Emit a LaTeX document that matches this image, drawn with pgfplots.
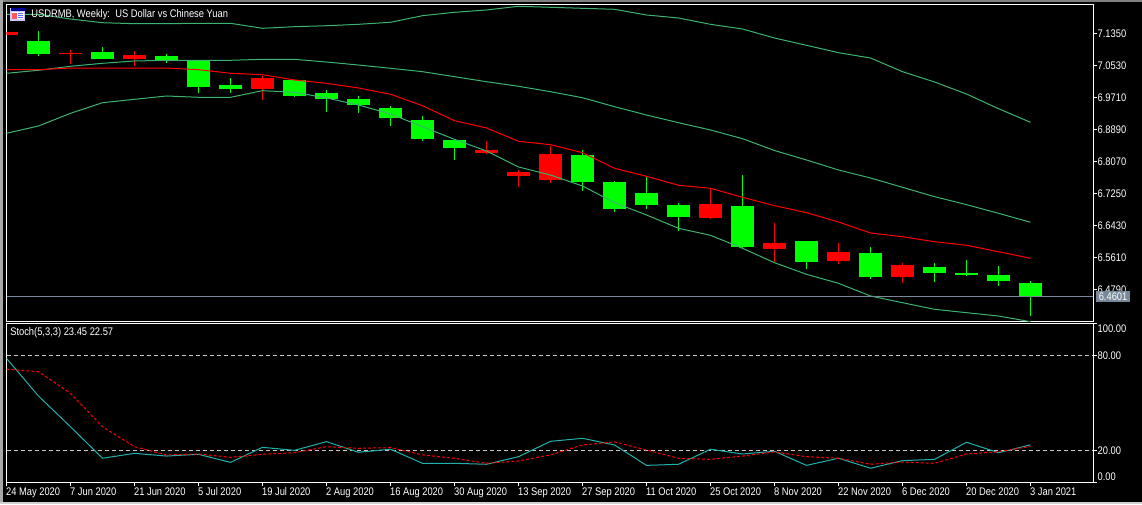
\documentclass[border=0pt]{standalone}
\usepackage{pgfplots}
\usepackage{pgfplotstable}
\usepackage{fontspec}
\setmainfont[FakeStretch=0.85]{Liberation Sans}
\pgfplotsset{compat=1.18}
\definecolor{band}{HTML}{3CB371}
\definecolor{stochc}{HTML}{20B2AA}
\definecolor{slatec}{HTML}{778899}
\definecolor{lime}{HTML}{00FF00}
\definecolor{lvl}{HTML}{C8C8C8}
\newcommand{\uifont}{\fontsize{8.25}{10}\selectfont}

% week top high low bottom
\pgfplotstableread{
k t h l b
1 7.1152 7.1408 7.0768 7.0819
3 7.0871 7.0999 7.0691 7.0691
5 7.0768 7.0819 7.0589 7.0666
6 7.0666 7.0666 6.9820 6.9974
7 7.0025 7.0204 6.9820 6.9922
9 7.0153 7.0153 6.9718 6.9743
10 6.9820 6.9897 6.9333 6.9666
11 6.9666 6.9743 6.9307 6.9512
12 6.9435 6.9486 6.8974 6.9179
13 6.9128 6.9230 6.8589 6.8641
14 6.8615 6.8615 6.8103 6.8410
18 6.8231 6.8359 6.7308 6.7539
19 6.7539 6.7564 6.6771 6.6847
20 6.7257 6.7693 6.6847 6.6950
21 6.6950 6.7001 6.6283 6.6643
23 6.6924 6.7719 6.5848 6.5873
25 6.6027 6.6027 6.5310 6.5489
27 6.5720 6.5874 6.5054 6.5105
29 6.5361 6.5463 6.4977 6.5207
30 6.5207 6.5540 6.5130 6.5156
31 6.5156 6.5387 6.4874 6.5002
32 6.4951 6.5002 6.4100 6.4601
}\greencandles
\pgfplotstableread{
k t h l b
0 7.1383 7.1383 7.1306 7.1306
2 7.0845 7.0922 7.0563 7.0820
4 7.0794 7.0896 7.0512 7.0691
8 7.0204 7.0255 6.9640 6.9922
15 6.8359 6.8589 6.8256 6.8282
16 6.7795 6.7847 6.7411 6.7693
17 6.8256 6.8462 6.7513 6.7590
22 6.6975 6.7385 6.6591 6.6616
24 6.5976 6.6488 6.5489 6.5822
26 6.5746 6.5976 6.5438 6.5515
28 6.5412 6.5463 6.4951 6.5105
}\redcandles
\pgfplotstableread{
k up mid low ma main sig
0 7.1837 7.0325 6.8787 7.0417 78.1 71.2
1 7.1837 7.0402 6.8974 7.0417 54.3 69.7
2 7.1716 7.0504 6.9300 7.0460 34.9 56.0
3 7.1621 7.0581 6.9571 7.0460 15.0 34.9
4 7.1596 7.0640 6.9658 7.0460 18.1 22.3
5 7.1596 7.0658 6.9743 7.0460 16.4 17.1
6 7.1606 7.0658 6.9710 7.0417 17.5 17.7
7 7.1606 7.0658 6.9710 7.0325 12.4 15.6
8 7.1478 7.0683 6.9879 7.0289 21.9 17.5
9 7.1519 7.0683 6.9838 7.0153 20.0 18.5
10 7.1544 7.0614 6.9692 7.0068 25.5 22.3
11 7.1580 7.0537 6.9512 6.9948 18.8 21.3
12 7.1632 7.0453 6.9282 6.9787 20.7 21.7
13 7.1801 7.0366 6.8956 6.9494 11.8 17.1
14 7.1888 7.0238 6.8633 6.9110 11.8 15.0
15 7.1947 7.0109 6.8334 6.8923 11.2 11.8
16 7.2042 6.9992 6.7924 6.8582 16.0 13.3
17 7.2016 6.9853 6.7719 6.8495 25.7 17.1
18 7.1990 6.9699 6.7437 6.8290 27.6 23.4
19 7.1965 6.9469 6.7009 6.7890 23.4 25.3
20 7.1819 6.9256 6.6694 6.7685 10.5 20.2
21 7.1742 6.9059 6.6353 6.7455 11.2 15.0
22 7.1580 6.8872 6.6173 6.7378 20.7 14.3
23 7.1460 6.8649 6.5840 6.7147 17.7 16.4
24 7.1229 6.8346 6.5471 6.6932 19.4 19.0
25 7.1042 6.8103 6.5174 6.6753 10.5 16.0
26 7.0853 6.7847 6.4943 6.6514 15.0 15.0
27 7.0717 6.7642 6.4618 6.6232 8.7 11.2
28 7.0366 6.7403 6.4446 6.6137 13.5 12.6
29 7.0102 6.7163 6.4277 6.6009 14.3 11.8
30 6.9794 6.6958 6.4190 6.5917 25.1 17.7
31 6.9418 6.6737 6.4105 6.5753 18.5 19.1
32 6.9069 6.6507 6.3959 6.5584 23.45 22.57
}\series

\pgfplotsset{
  mt/.style={
    scale only axis,
    width=814.875pt,
    xmin=0, xmax=33.953,
    axis line style={white,line width=0.75pt},
    every tick/.style={white,line width=0.75pt},
    tick align=outside,
    major tick length=3pt,
    ytick pos=right,
    yticklabel pos=right,
    every tick label/.append style={font=\uifont,text=white},
    yticklabel style={anchor=west,xshift=-0.75pt,inner sep=1pt},
    clip=true,
  },
}

\begin{document}
\begin{tikzpicture}
\useasboundingbox (0,0) rectangle (856.5pt,378pt);
\fill[black] (0,0) rectangle (856.5pt,378pt);

\begin{axis}[mt,
  at={(4.875pt,137.25pt)}, anchor=south west,
  height=237.525pt,
  ymin=6.3977, ymax=7.2093,
  xtick=\empty,
  ytick={6.479,6.561,6.643,6.725,6.807,6.889,6.971,7.053,7.135},
  yticklabels={6.4790,6.5610,6.6430,6.7250,6.8070,6.8890,6.9710,7.0530,7.1350},
]
% wicks and bodies
\addplot[draw=none,forget plot,error bars/.cd,y dir=minus,y explicit,error mark=none,
  error bar style={lime,line width=0.75pt}]
  table[x=k,y=h,y error minus expr=\thisrow{h}-\thisrow{l}] {\greencandles};
\addplot[draw=none,forget plot,error bars/.cd,y dir=minus,y explicit,error mark=none,
  error bar style={lime,line width=17.25pt}]
  table[x=k,y=t,y error minus expr=\thisrow{t}-\thisrow{b}] {\greencandles};
\addplot[draw=none,forget plot,error bars/.cd,y dir=minus,y explicit,error mark=none,
  error bar style={red,line width=0.75pt}]
  table[x=k,y=h,y error minus expr=\thisrow{h}-\thisrow{l}] {\redcandles};
\addplot[draw=none,forget plot,error bars/.cd,y dir=minus,y explicit,error mark=none,
  error bar style={red,line width=17.25pt}]
  table[x=k,y=t,y error minus expr=\thisrow{t}-\thisrow{b}] {\redcandles};
% bands
\addplot[band,line width=0.75pt] table[x=k,y=up] {\series};
\addplot[band,line width=0.75pt] table[x=k,y=mid] {\series};
\addplot[band,line width=0.75pt] table[x=k,y=low] {\series};
\addplot[red,line width=0.75pt] table[x=k,y=ma] {\series};
% current price
\addplot[slatec,line width=0.75pt] coordinates {(0,6.4601) (33.953,6.4601)};
\end{axis}

\begin{axis}[mt,
  at={(4.875pt,16.5pt)}, anchor=south west,
  height=118.725pt,
  ymin=0, ymax=100,
  xtick={0,2,...,32},
  xticklabels={24 May 2020,7 Jun 2020,21 Jun 2020,5 Jul 2020,19 Jul 2020,2 Aug 2020,16 Aug 2020,30 Aug 2020,13 Sep 2020,27 Sep 2020,11 Oct 2020,25 Oct 2020,8 Nov 2020,22 Nov 2020,6 Dec 2020,20 Dec 2020,3 Jan 2021},
  xtick pos=bottom,
  xticklabel pos=lower,
  xticklabel style={anchor=north west,xshift=-0.5pt,yshift=-0.25pt,inner xsep=0pt,inner ysep=1pt,text height=6pt,text depth=1.75pt},
  ytick={0,20,80,100},
  yticklabels={\raisebox{4pt}[6pt][1pt]{0.00},20.00,80.00,\raisebox{-4pt}[6pt][1pt]{100.00}},
]
\addplot[lvl,line width=0.75pt,dash pattern=on 3pt off 2.25pt] coordinates {(0,20) (33.953,20)};
\addplot[lvl,line width=0.75pt,dash pattern=on 3pt off 2.25pt] coordinates {(0,80) (33.953,80)};
\addplot[stochc,line width=0.75pt] table[x=k,y=main] {\series};
\addplot[red,line width=0.75pt,dash pattern=on 2.25pt off 1.5pt] table[x=k,y=sig] {\series};
\end{axis}

% window furniture, in pixel units from the top left corner
\begin{scope}[shift={(0,378pt)},x=0.75pt,y=-0.75pt]
  \fill[black!50] (0,0) rectangle (1142,2);
  \fill[black!35] (0,0) rectangle (3,504);
  \fill[black!18] (0,502) rectangle (1142,504);
  % icon
  \fill[white!80!blue] (10,8) rectangle (25,21);
  \fill[blue!60!black] (10.5,8.5) rectangle (24.5,11);
  \fill[white] (11.5,12) rectangle (23.5,19.5);
  \fill[red!65] (12,13) rectangle (16.5,19);
  \foreach \yy in {13,15,17}{\fill[blue!60] (18,\yy) rectangle (23,\yy+1);}
  % texts
  \node[anchor=west,inner sep=0pt,text=white,font=\uifont] at (31,14.5) {USDRMB, Weekly:\ \ US Dollar vs Chinese Yuan};
  \node[anchor=west,inner sep=0pt,text=white,font=\uifont] at (10,332.5) {Stoch(5,3,3) 23.45 22.57};
  % price tag
  \fill[slatec] (1096,291) rectangle (1130,302);
  \node[anchor=west,inner sep=0pt,text=white,font=\uifont] at (1098.5,296.5) {6.4601};
\end{scope}
\end{tikzpicture}
\end{document}
